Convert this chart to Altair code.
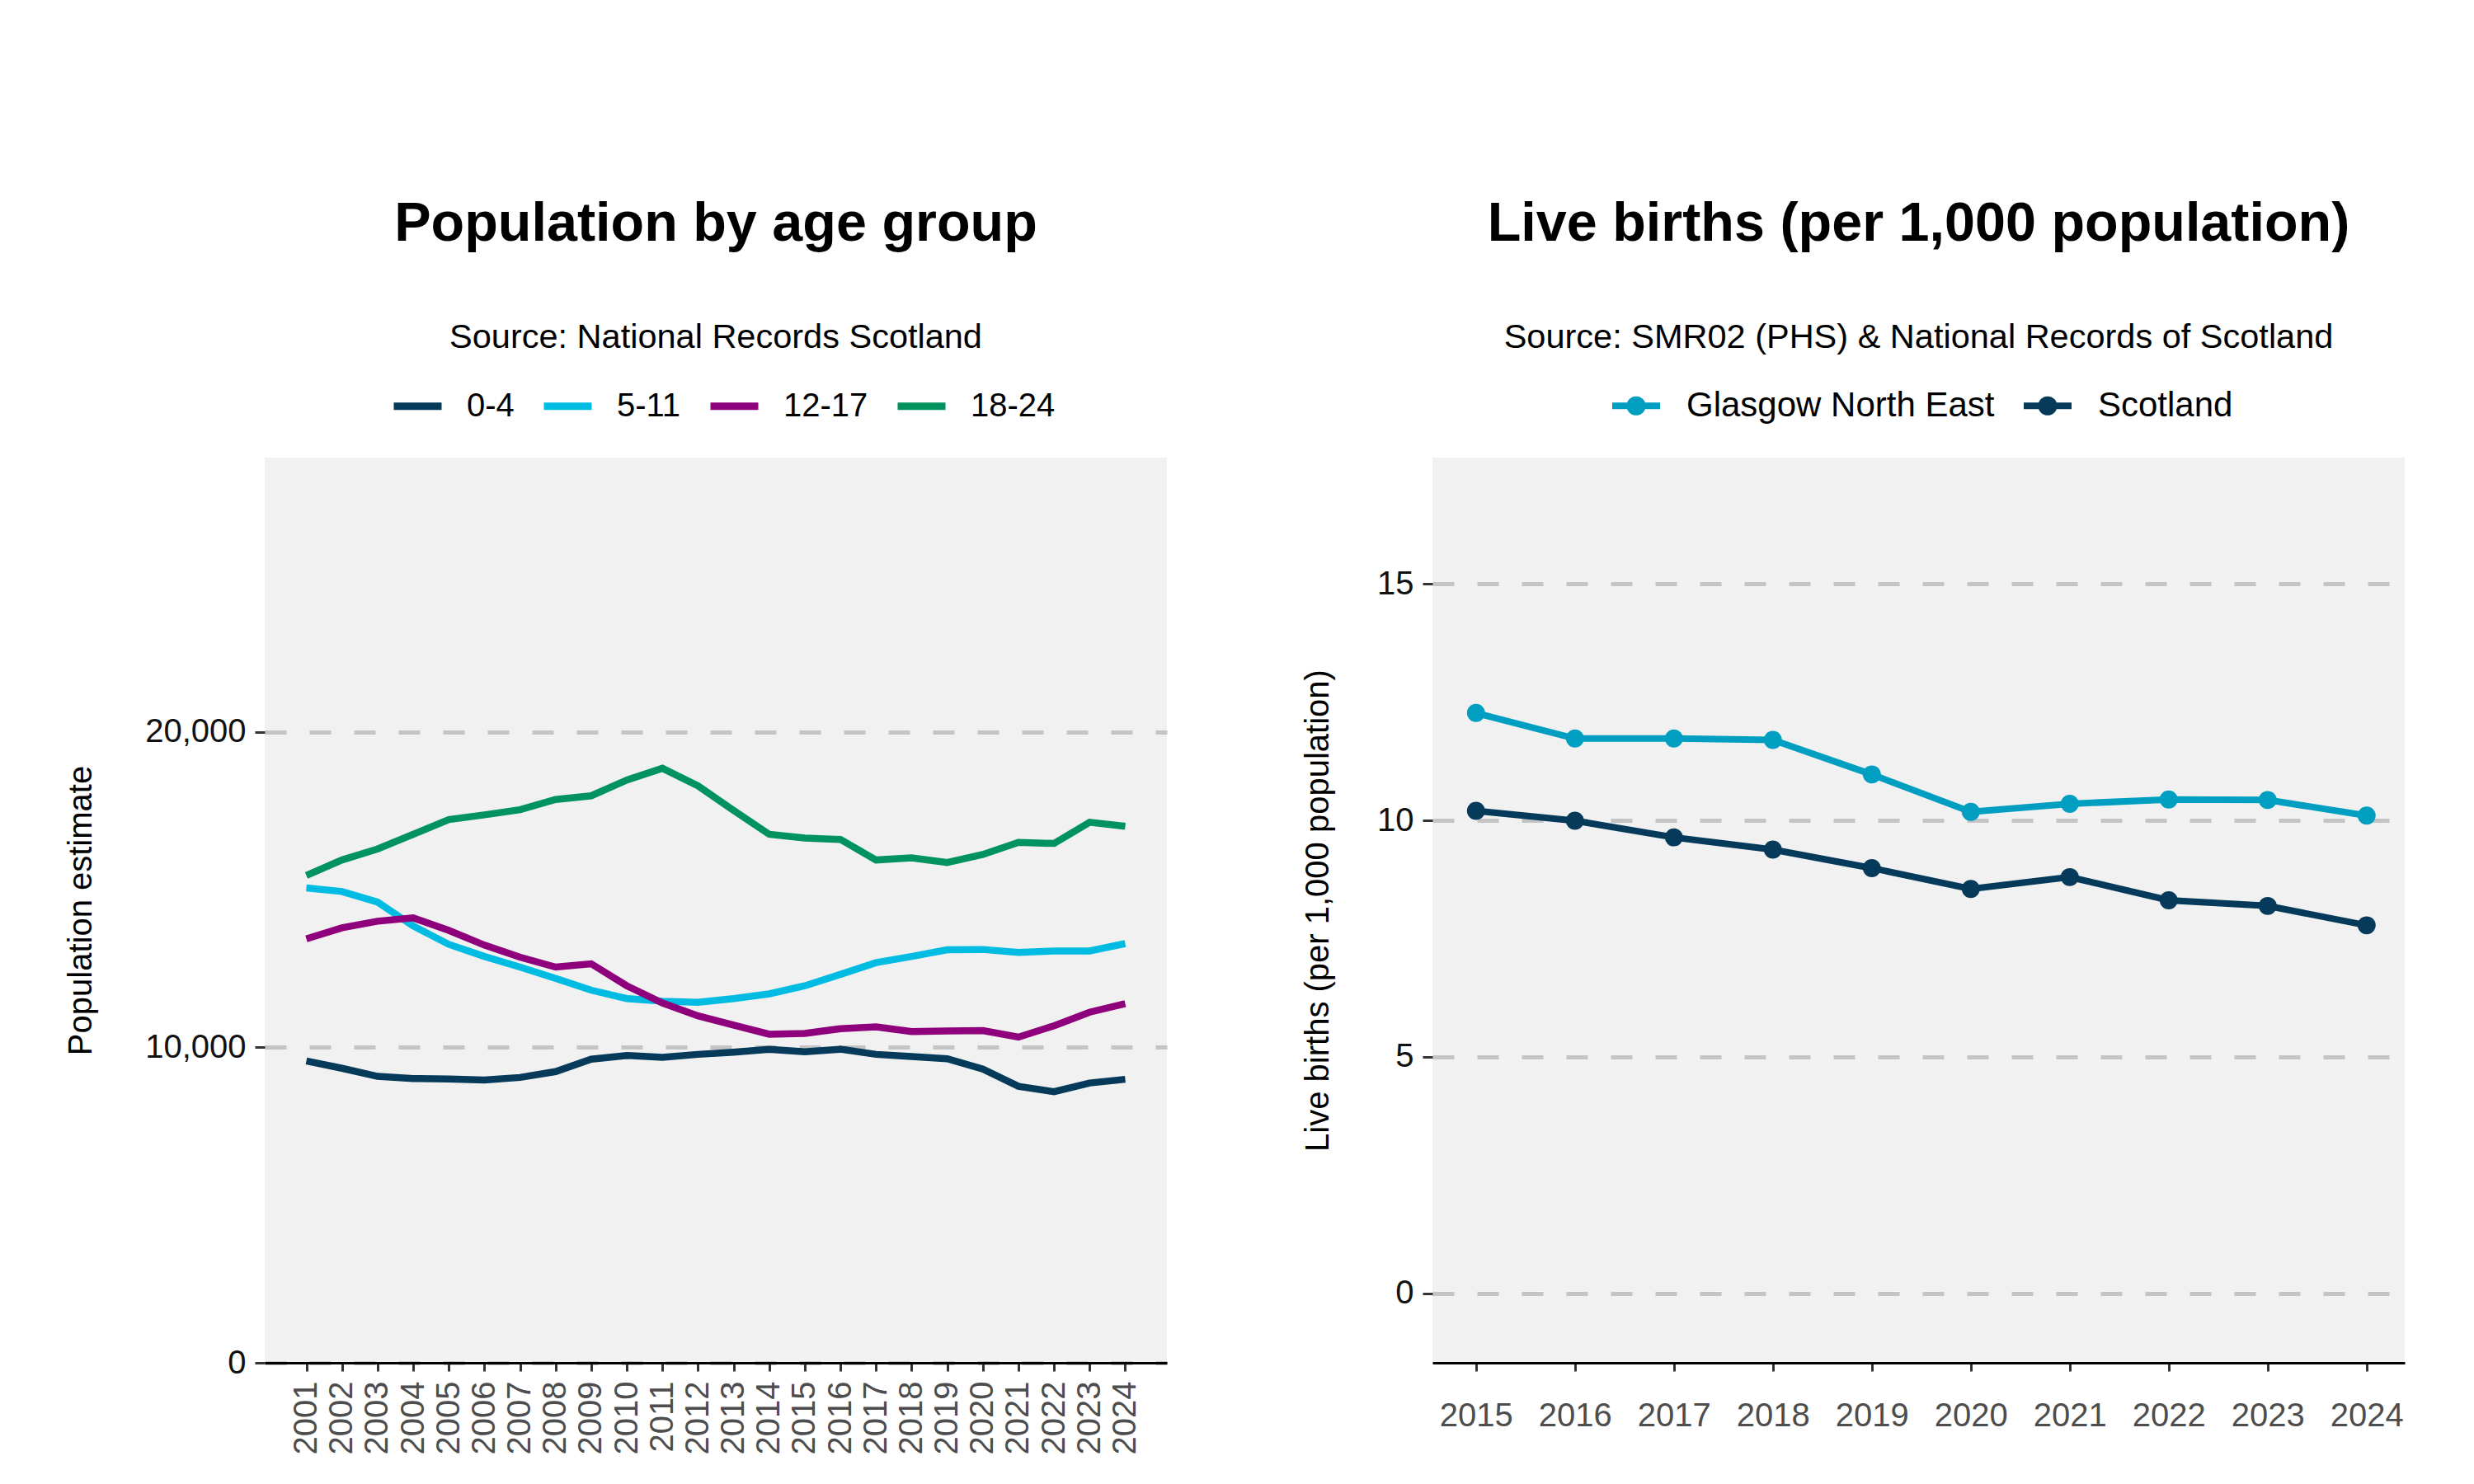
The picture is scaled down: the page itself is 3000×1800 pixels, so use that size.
import altair as alt
import pandas as pd

FONT = "Liberation Sans"

# ---------------- data ----------------
pop_years = [2001, 2002, 2003, 2004, 2005, 2006, 2007, 2008, 2009, 2010, 2011, 2012,
             2013, 2014, 2015, 2016, 2017, 2018, 2019, 2020, 2021, 2022, 2023, 2024]
age_groups = ["0-4", "5-11", "12-17", "18-24"]
age_colors = ["#063a5b", "#00bce2", "#8e007c", "#00925f"]

pop_0_4 = [9570, 9337, 9081, 9012, 9000, 8965, 9047, 9233, 9628, 9744, 9686, 9779,
           9849, 9942, 9860, 9942, 9779, 9709, 9640, 9314, 8767, 8593, 8872, 8988]
pop_5_11 = [15058, 14942, 14605, 13849, 13267, 12884, 12547, 12186, 11814, 11547, 11465, 11430,
            11547, 11698, 11953, 12314, 12686, 12884, 13093, 13105, 13012, 13058, 13058, 13291]
pop_12_17 = [13442, 13791, 14000, 14105, 13709, 13244, 12860, 12547, 12651, 11953, 11407, 11000,
             10709, 10419, 10442, 10593, 10651, 10500, 10523, 10535, 10326, 10686, 11116, 11384]
pop_18_24 = [15453, 15942, 16291, 16756, 17221, 17372, 17535, 17860, 17977, 18477, 18849, 18291,
             17512, 16756, 16640, 16593, 15942, 16012, 15860, 16116, 16500, 16465, 17140, 17012]

birth_years = [2015, 2016, 2017, 2018, 2019, 2020, 2021, 2022, 2023, 2024]
areas = ["Glasgow North East", "Scotland"]
area_colors = ["#009fc2", "#063a5b"]
births_gne = [12.27, 11.73, 11.73, 11.70, 10.97, 10.18, 10.35, 10.44, 10.43, 10.10]
births_scot = [10.20, 9.99, 9.64, 9.38, 8.99, 8.55, 8.80, 8.31, 8.19, 7.78]

pop_rows = []
for g, vals in zip(age_groups, [pop_0_4, pop_5_11, pop_12_17, pop_18_24]):
    for yr, v in zip(pop_years, vals):
        pop_rows.append({"year": yr, "group": g, "value": v})
pop_df = pd.DataFrame(pop_rows)

birth_rows = []
for a, vals in zip(areas, [births_gne, births_scot]):
    for yr, v in zip(birth_years, vals):
        birth_rows.append({"year": yr, "area": a, "rate": v})
birth_df = pd.DataFrame(birth_rows)

# ---------------- shared styles ----------------
def y_axis_kw(title_padding):
    return dict(grid=True, gridColor="#c4c4c4", gridDash=[26, 28], gridWidth=5,
                domain=False, ticks=True, tickColor="#333333", tickWidth=3, tickSize=12,
                labelFont=FONT, labelFontSize=40, labelColor="#111111", labelPadding=11,
                titleFont=FONT, titleFontSize=40, titleColor="#000000",
                titleFontWeight="normal", titlePadding=title_padding)


x_kw = dict(grid=False, domain=True, domainColor="#000000", domainWidth=3,
            ticks=True, tickColor="#333333", tickWidth=3, tickSize=10,
            labelFont=FONT, labelFontSize=40, labelColor="#4d4d4d", title=None)


def title_params(text, sub):
    return alt.TitleParams(text=text, subtitle=sub, anchor="middle", frame="group",
                           font=FONT, fontSize=66.5, fontWeight="bold", color="#000000",
                           subtitleFont=FONT, subtitleFontSize=41.5, subtitleColor="#000000",
                           subtitlePadding=83, offset=29)


# ---------------- left chart ----------------
left = alt.Chart(pop_df).mark_line(strokeWidth=8.5, strokeCap="butt").encode(
    x=alt.X("year:Q",
            scale=alt.Scale(domain=[1999.83, 2025.17], nice=False, zero=False),
            axis=alt.Axis(values=pop_years, format="d", labelAngle=270,
                          labelPadding=12, **x_kw)),
    y=alt.Y("value:Q",
            scale=alt.Scale(domain=[0, 28700], nice=False),
            axis=alt.Axis(values=[0, 10000, 20000], format=",.0f",
                          title="Population estimate", **y_axis_kw(57))),
    color=alt.Color("group:N", sort=age_groups,
                    scale=alt.Scale(domain=age_groups, range=age_colors),
                    legend=alt.Legend(orient="none", direction="horizontal",
                                      legendX=152, legendY=-96, title=None,
                                      symbolType="stroke", symbolStrokeWidth=9,
                                      symbolSize=3364, labelOffset=26,
                                      columnPadding=17, labelFont=FONT,
                                      labelFontSize=40, labelColor="#000000",
                                      labelLimit=0)),
    order=alt.Order("year:Q"),
).properties(width=1094, height=1098,
             title=title_params("Population by age group",
                                "Source: National Records Scotland"))

# ---------------- right chart ----------------
x_right = alt.X("year:Q",
                scale=alt.Scale(domain=[2014.56, 2024.385], nice=False, zero=False),
                axis=alt.Axis(values=birth_years, format="d", labelAngle=0,
                              labelPadding=34, **x_kw))
y_right = alt.Y("rate:Q",
                scale=alt.Scale(domain=[-1.47, 17.67], nice=False, zero=False),
                axis=alt.Axis(values=[0, 5, 10, 15], format="d",
                              title="Live births (per 1,000 population)", **y_axis_kw(51)))

legend_symbol = ("M-1,0L1,0"
                 "M-0.26,0A0.26,0.26 0 1,1 0.26,0A0.26,0.26 0 1,1 -0.26,0Z")


def right_legend():
    return alt.Legend(orient="none", direction="horizontal",
                      legendX=214, legendY=-96, title=None,
                      symbolType=legend_symbol, symbolSize=3364,
                      symbolStrokeWidth=8, labelOffset=28,
                      columnPadding=19, labelFont=FONT,
                      labelFontSize=42, labelColor="#000000", labelLimit=0)


r_line = alt.Chart(birth_df).mark_line(strokeWidth=8).encode(
    x=x_right, y=y_right,
    stroke=alt.Stroke("area:N", sort=areas,
                      scale=alt.Scale(domain=areas, range=area_colors),
                      legend=right_legend()),
    order=alt.Order("year:Q"),
)
r_points = alt.Chart(birth_df).mark_circle(size=480, opacity=1, strokeWidth=0).encode(
    x=x_right, y=y_right,
    fill=alt.Fill("area:N", sort=areas,
                  scale=alt.Scale(domain=areas, range=area_colors),
                  legend=right_legend()),
)
right = alt.layer(r_line, r_points).properties(
    width=1179, height=1098,
    title=title_params("Live births (per 1,000 population)",
                       "Source: SMR02 (PHS) & National Records of Scotland"))

chart = alt.hconcat(left, right, spacing=163).resolve_scale(
    color="independent", fill="independent", stroke="independent"
).configure(
    font=FONT,
    padding={"left": 78, "top": 239, "right": 10, "bottom": 10},
    background="#ffffff",
).configure_view(fill="#f1f1f1", stroke=None)

chart.save("out.html", embed_options={"renderer": "svg", "actions": False})
